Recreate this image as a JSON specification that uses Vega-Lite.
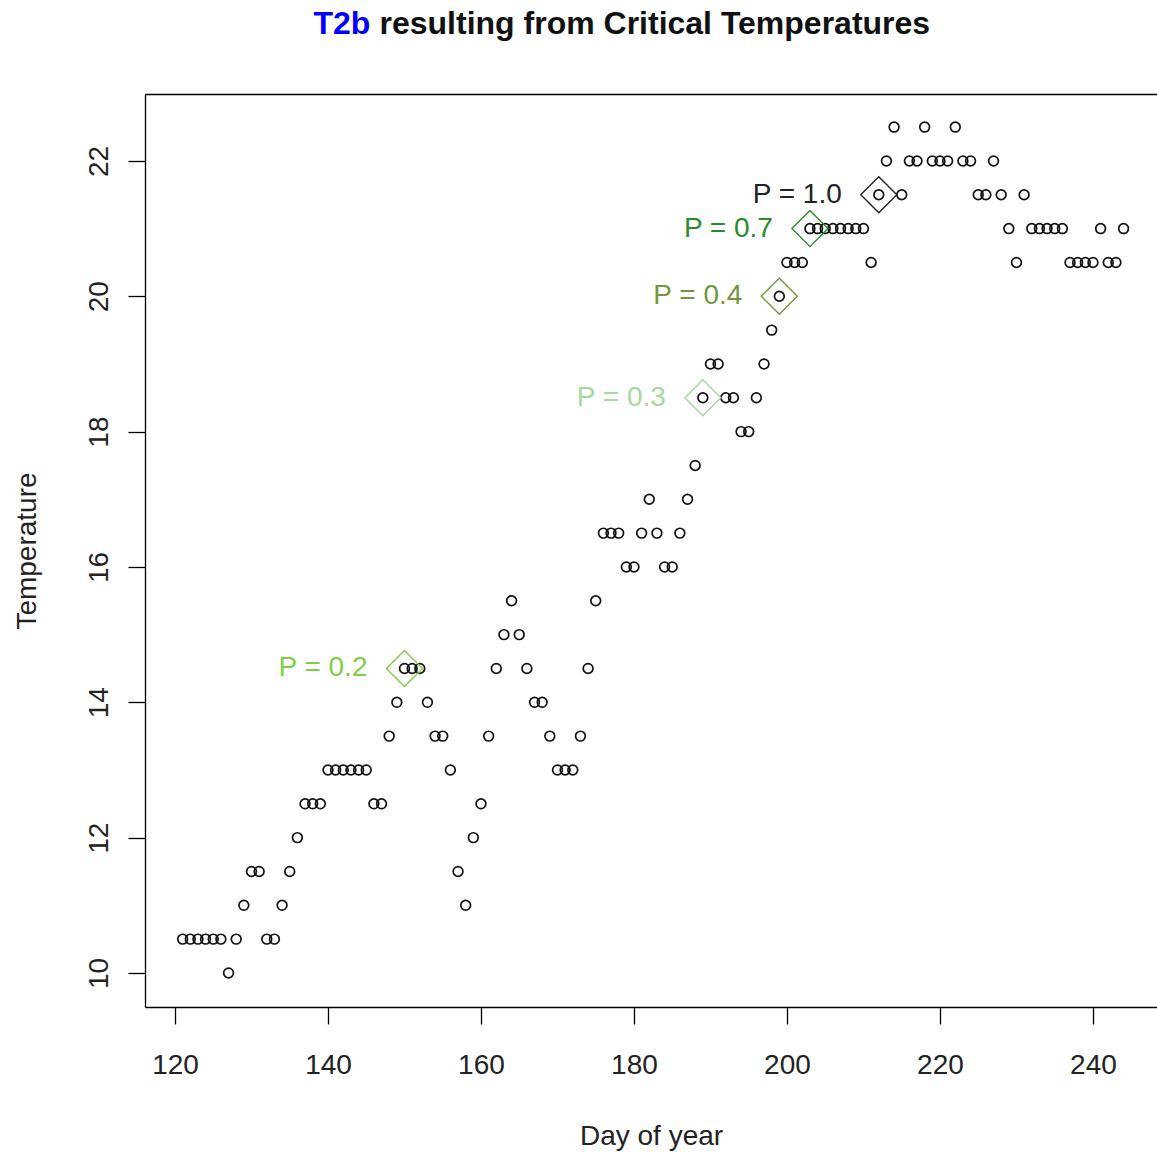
{
  "$schema": "https://vega.github.io/schema/vega-lite/v6.json",
  "autosize": "none",
  "width": 1012,
  "height": 913,
  "padding": {"left": 145, "top": 94, "right": 0, "bottom": 145},
  "background": "white",
  "config": {
    "view": {"stroke": null},
    "font": "Liberation Sans",
    "axis": {"labelFont": "Liberation Sans", "titleFont": "Liberation Sans", "grid": false}
  },
  "datasets": {
    "obs": [
      {"day":121,"temp":10.5},{"day":122,"temp":10.5},{"day":123,"temp":10.5},{"day":124,"temp":10.5},{"day":125,"temp":10.5},{"day":126,"temp":10.5},
      {"day":127,"temp":10},{"day":128,"temp":10.5},{"day":129,"temp":11},{"day":130,"temp":11.5},{"day":131,"temp":11.5},{"day":132,"temp":10.5},
      {"day":133,"temp":10.5},{"day":134,"temp":11},{"day":135,"temp":11.5},{"day":136,"temp":12},{"day":137,"temp":12.5},{"day":138,"temp":12.5},
      {"day":139,"temp":12.5},{"day":140,"temp":13},{"day":141,"temp":13},{"day":142,"temp":13},{"day":143,"temp":13},{"day":144,"temp":13},
      {"day":145,"temp":13},{"day":146,"temp":12.5},{"day":147,"temp":12.5},{"day":148,"temp":13.5},{"day":149,"temp":14},{"day":150,"temp":14.5},
      {"day":151,"temp":14.5},{"day":152,"temp":14.5},{"day":153,"temp":14},{"day":154,"temp":13.5},{"day":155,"temp":13.5},{"day":156,"temp":13},
      {"day":157,"temp":11.5},{"day":158,"temp":11},{"day":159,"temp":12},{"day":160,"temp":12.5},{"day":161,"temp":13.5},{"day":162,"temp":14.5},
      {"day":163,"temp":15},{"day":164,"temp":15.5},{"day":165,"temp":15},{"day":166,"temp":14.5},{"day":167,"temp":14},{"day":168,"temp":14},
      {"day":169,"temp":13.5},{"day":170,"temp":13},{"day":171,"temp":13},{"day":172,"temp":13},{"day":173,"temp":13.5},{"day":174,"temp":14.5},
      {"day":175,"temp":15.5},{"day":176,"temp":16.5},{"day":177,"temp":16.5},{"day":178,"temp":16.5},{"day":179,"temp":16},{"day":180,"temp":16},
      {"day":181,"temp":16.5},{"day":182,"temp":17},{"day":183,"temp":16.5},{"day":184,"temp":16},{"day":185,"temp":16},{"day":186,"temp":16.5},
      {"day":187,"temp":17},{"day":188,"temp":17.5},{"day":189,"temp":18.5},{"day":190,"temp":19},{"day":191,"temp":19},{"day":192,"temp":18.5},
      {"day":193,"temp":18.5},{"day":194,"temp":18},{"day":195,"temp":18},{"day":196,"temp":18.5},{"day":197,"temp":19},{"day":198,"temp":19.5},
      {"day":199,"temp":20},{"day":200,"temp":20.5},{"day":201,"temp":20.5},{"day":202,"temp":20.5},{"day":203,"temp":21},{"day":204,"temp":21},
      {"day":205,"temp":21},{"day":206,"temp":21},{"day":207,"temp":21},{"day":208,"temp":21},{"day":209,"temp":21},{"day":210,"temp":21},
      {"day":211,"temp":20.5},{"day":212,"temp":21.5},{"day":213,"temp":22},{"day":214,"temp":22.5},{"day":215,"temp":21.5},{"day":216,"temp":22},
      {"day":217,"temp":22},{"day":218,"temp":22.5},{"day":219,"temp":22},{"day":220,"temp":22},{"day":221,"temp":22},{"day":222,"temp":22.5},
      {"day":223,"temp":22},{"day":224,"temp":22},{"day":225,"temp":21.5},{"day":226,"temp":21.5},{"day":227,"temp":22},{"day":228,"temp":21.5},
      {"day":229,"temp":21},{"day":230,"temp":20.5},{"day":231,"temp":21.5},{"day":232,"temp":21},{"day":233,"temp":21},{"day":234,"temp":21},
      {"day":235,"temp":21},{"day":236,"temp":21},{"day":237,"temp":20.5},{"day":238,"temp":20.5},{"day":239,"temp":20.5},{"day":240,"temp":20.5},
      {"day":241,"temp":21},{"day":242,"temp":20.5},{"day":243,"temp":20.5},{"day":244,"temp":21}
    ],
    "crit": [
      {"day":150,"temp":14.5,"label":"P = 0.2"},
      {"day":189,"temp":18.5,"label":"P = 0.3"},
      {"day":199,"temp":20,"label":"P = 0.4"},
      {"day":203,"temp":21,"label":"P = 0.7"},
      {"day":212,"temp":21.5,"label":"P = 1.0"}
    ]
  },
  "layer": [
    {
      "data": {"name": "obs"},
      "mark": {"type": "point", "shape": "circle", "filled": false, "size": 95, "strokeWidth": 1.7, "color": "#111", "opacity": 1},
      "encoding": {
        "x": {
          "field": "day", "type": "quantitative",
          "scale": {"domain": [116.08, 248.37], "nice": false, "zero": false},
          "axis": {
            "orient": "bottom", "values": [120, 140, 160, 180, 200, 220, 240],
            "domain": true, "domainColor": "black", "domainWidth": 1.3,
            "ticks": true, "tickSize": 17, "tickColor": "black", "tickWidth": 1.3,
            "labelFontSize": 28, "labelColor": "#222", "labelPadding": 27, "labelFlush": false, "labelOverlap": false,
            "title": "Day of year", "titleFontSize": 28, "titleFontWeight": "normal", "titleColor": "#222",
            "titleX": 506, "titleY": 137, "titleAlign": "center", "titleBaseline": "alphabetic"
          }
        },
        "y": {
          "field": "temp", "type": "quantitative",
          "scale": {"domain": [9.497, 22.989], "nice": false, "zero": false},
          "axis": {
            "orient": "left", "values": [10, 12, 14, 16, 18, 20, 22],
            "domain": true, "domainColor": "black", "domainWidth": 1.3,
            "ticks": true, "tickSize": 17, "tickColor": "black", "tickWidth": 1.3,
            "labelFontSize": 28, "labelColor": "#222", "labelPadding": 15, "labelAngle": 270,
            "labelAlign": "center", "labelBaseline": "bottom", "labelFlush": false, "labelOverlap": false,
            "title": "Temperature", "titleFontSize": 28, "titleFontWeight": "normal", "titleColor": "#222",
            "titleAngle": 270, "titleX": -118, "titleY": 456.5, "titleAlign": "center", "titleBaseline": "middle"
          }
        }
      }
    },
    {
      "data": {"name": "crit"},
      "mark": {"type": "point", "shape": "diamond", "filled": false, "size": 1300, "strokeWidth": 1.4, "opacity": 1},
      "encoding": {
        "x": {
          "field": "day", "type": "quantitative",
          "scale": {"domain": [116.08, 248.37], "nice": false, "zero": false},
          "axis": {
            "orient": "top", "domain": true, "domainColor": "black", "domainWidth": 1.3,
            "ticks": false, "labels": false, "grid": false,
            "title": "T2b", "titleColor": "#0000ff", "titleFontSize": 32, "titleFontWeight": "bold",
            "titleX": 168, "titleY": -61, "titleAlign": "left", "titleBaseline": "alphabetic"
          }
        },
        "y": {"field": "temp", "type": "quantitative", "scale": {"domain": [9.497, 22.989], "nice": false, "zero": false}, "axis": null},
        "color": {
          "field": "label", "type": "nominal",
          "scale": {"domain": ["P = 0.2", "P = 0.3", "P = 0.4", "P = 0.7", "P = 1.0"], "range": ["#7fcf45", "#a6d8a0", "#75963f", "#2a8b2a", "#222222"]},
          "legend": null
        }
      }
    },
    {
      "data": {"name": "crit"},
      "mark": {"type": "text", "align": "right", "baseline": "middle", "dx": -37, "fontSize": 28, "font": "Liberation Sans"},
      "encoding": {
        "x": {
          "field": "day", "type": "quantitative",
          "scale": {"domain": [116.08, 248.37], "nice": false, "zero": false},
          "axis": {
            "orient": "top", "domain": false, "ticks": false, "labels": false, "grid": false,
            "title": "resulting from Critical Temperatures", "titleColor": "#111", "titleFontSize": 32, "titleFontWeight": "bold",
            "titleX": 234, "titleY": -61, "titleAlign": "left", "titleBaseline": "alphabetic"
          }
        },
        "y": {"field": "temp", "type": "quantitative", "scale": {"domain": [9.497, 22.989], "nice": false, "zero": false}, "axis": null},
        "text": {"field": "label", "type": "nominal"},
        "color": {
          "field": "label", "type": "nominal",
          "scale": {"domain": ["P = 0.2", "P = 0.3", "P = 0.4", "P = 0.7", "P = 1.0"], "range": ["#7fcf45", "#a6d8a0", "#75963f", "#2a8b2a", "#222222"]},
          "legend": null
        }
      }
    }
  ],
  "resolve": {"axis": {"x": "independent", "y": "independent"}}
}
